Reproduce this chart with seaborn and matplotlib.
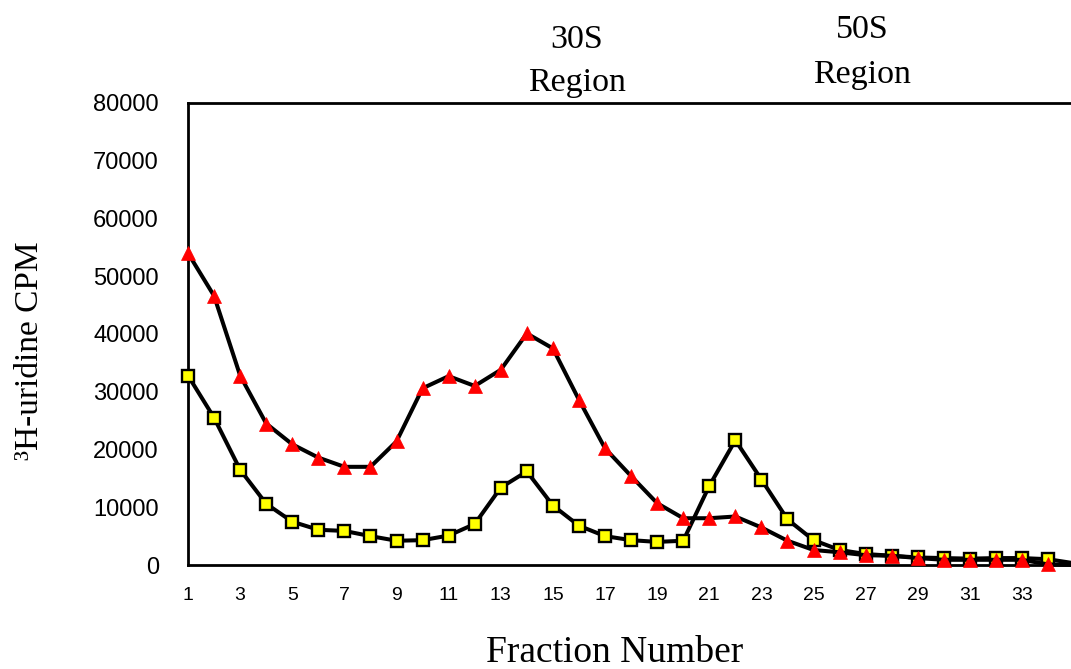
import numpy as np
import pandas as pd
import matplotlib
matplotlib.use("Agg")
import matplotlib.pyplot as plt
import seaborn as sns

# Sucrose-gradient fractions and 3H-uridine counts for the two samples
fractions = list(range(1, 36))
tick_labels = [str(f) for f in range(1, 35, 2)]

cpm_triangles = [54000, 46600, 32800, 24500, 20900, 18600, 17000, 17000, 21400, 30600,
                 32700, 31000, 33800, 40100, 37500, 28600, 20200, 15400, 10700, 8100,
                 8100, 8400, 6500, 4200, 2600, 2200, 1700, 1600, 1200, 900,
                 900, 900, 900, 100, 0]
cpm_squares = [32800, 25500, 16500, 10600, 7500, 6100, 5900, 5000, 4200, 4300,
               5100, 7100, 13400, 16200, 10300, 6800, 5000, 4300, 4000, 4200,
               13700, 21600, 14800, 7900, 4300, 2600, 1900, 1600, 1300, 1200,
               1100, 1200, 1200, 1000, 300]

y_ticks = list(range(0, 80001, 10000))

df = pd.DataFrame({"fraction": fractions,
                   "tri": cpm_triangles,
                   "sq": cpm_squares})

sns.set_style("white")
plt.rcParams["font.family"] = ["Liberation Sans", "DejaVu Sans"]
plt.rcParams["text.color"] = "black"
plt.rcParams["xtick.color"] = "black"
plt.rcParams["ytick.color"] = "black"

fig = plt.figure(figsize=(10.71, 6.69), dpi=100)
ax = fig.add_axes([188 / 1071, 1 - 565 / 669, 1 - 188 / 1071 + 0.002, (565 - 103) / 669])

shown = list(range(34))
sns.lineplot(data=df, x="fraction", y="sq", ax=ax, color="black", linewidth=2.9,
             marker="s", markersize=8.5, markerfacecolor="#ffff00", markeredgecolor="black",
             markeredgewidth=1.7, markevery=shown, clip_on=False, zorder=3)
sns.lineplot(data=df, x="fraction", y="tri", ax=ax, color="black", linewidth=2.9,
             marker="^", markersize=10.5, markerfacecolor="#ff0000", markeredgecolor="#ff0000",
             markeredgewidth=0.5, markevery=shown, clip_on=False, zorder=4)

ax.set_xlim(1, 34.96)
ax.set_ylim(0, 80000)
ax.set_xticks(range(1, 35))
ax.set_xticklabels([str(f) if f % 2 == 1 else "" for f in range(1, 35)])
ax.set_yticks(y_ticks)
ax.set_yticklabels([str(v) for v in y_ticks])
ax.tick_params(axis="x", direction="out", length=6, width=1.5, color="black",
               labelsize=14, pad=10)
ax.tick_params(axis="y", length=0, labelsize=17, pad=21)
ax.set_xlabel("")
ax.set_ylabel("")

for side in ("left", "bottom", "top"):
    ax.spines[side].set_visible(True)
    ax.spines[side].set_color("black")
    ax.spines[side].set_linewidth(2)
ax.spines["right"].set_visible(False)

serif = ["Liberation Serif", "DejaVu Serif"]
fig.text(30 / 1071, 1 - 351 / 669, "³H-uridine CPM", rotation=90, ha="center",
         va="center", fontsize=24, family=serif)
fig.text(615 / 1071, 1 - 653 / 669, "Fraction Number", ha="center", va="center",
         fontsize=27, family=serif)
fig.text(577 / 1071, 1 - 40 / 669, "30S", ha="center", va="center",
         fontsize=24.5, family=serif)
fig.text(577 / 1071, 1 - 83 / 669, "Region", ha="center", va="center",
         fontsize=24.5, family=serif)
fig.text(862 / 1071, 1 - 30 / 669, "50S", ha="center", va="center",
         fontsize=24.5, family=serif)
fig.text(862 / 1071, 1 - 75 / 669, "Region", ha="center", va="center",
         fontsize=24.5, family=serif)

fig.savefig("out.png", dpi=100, facecolor="white")
